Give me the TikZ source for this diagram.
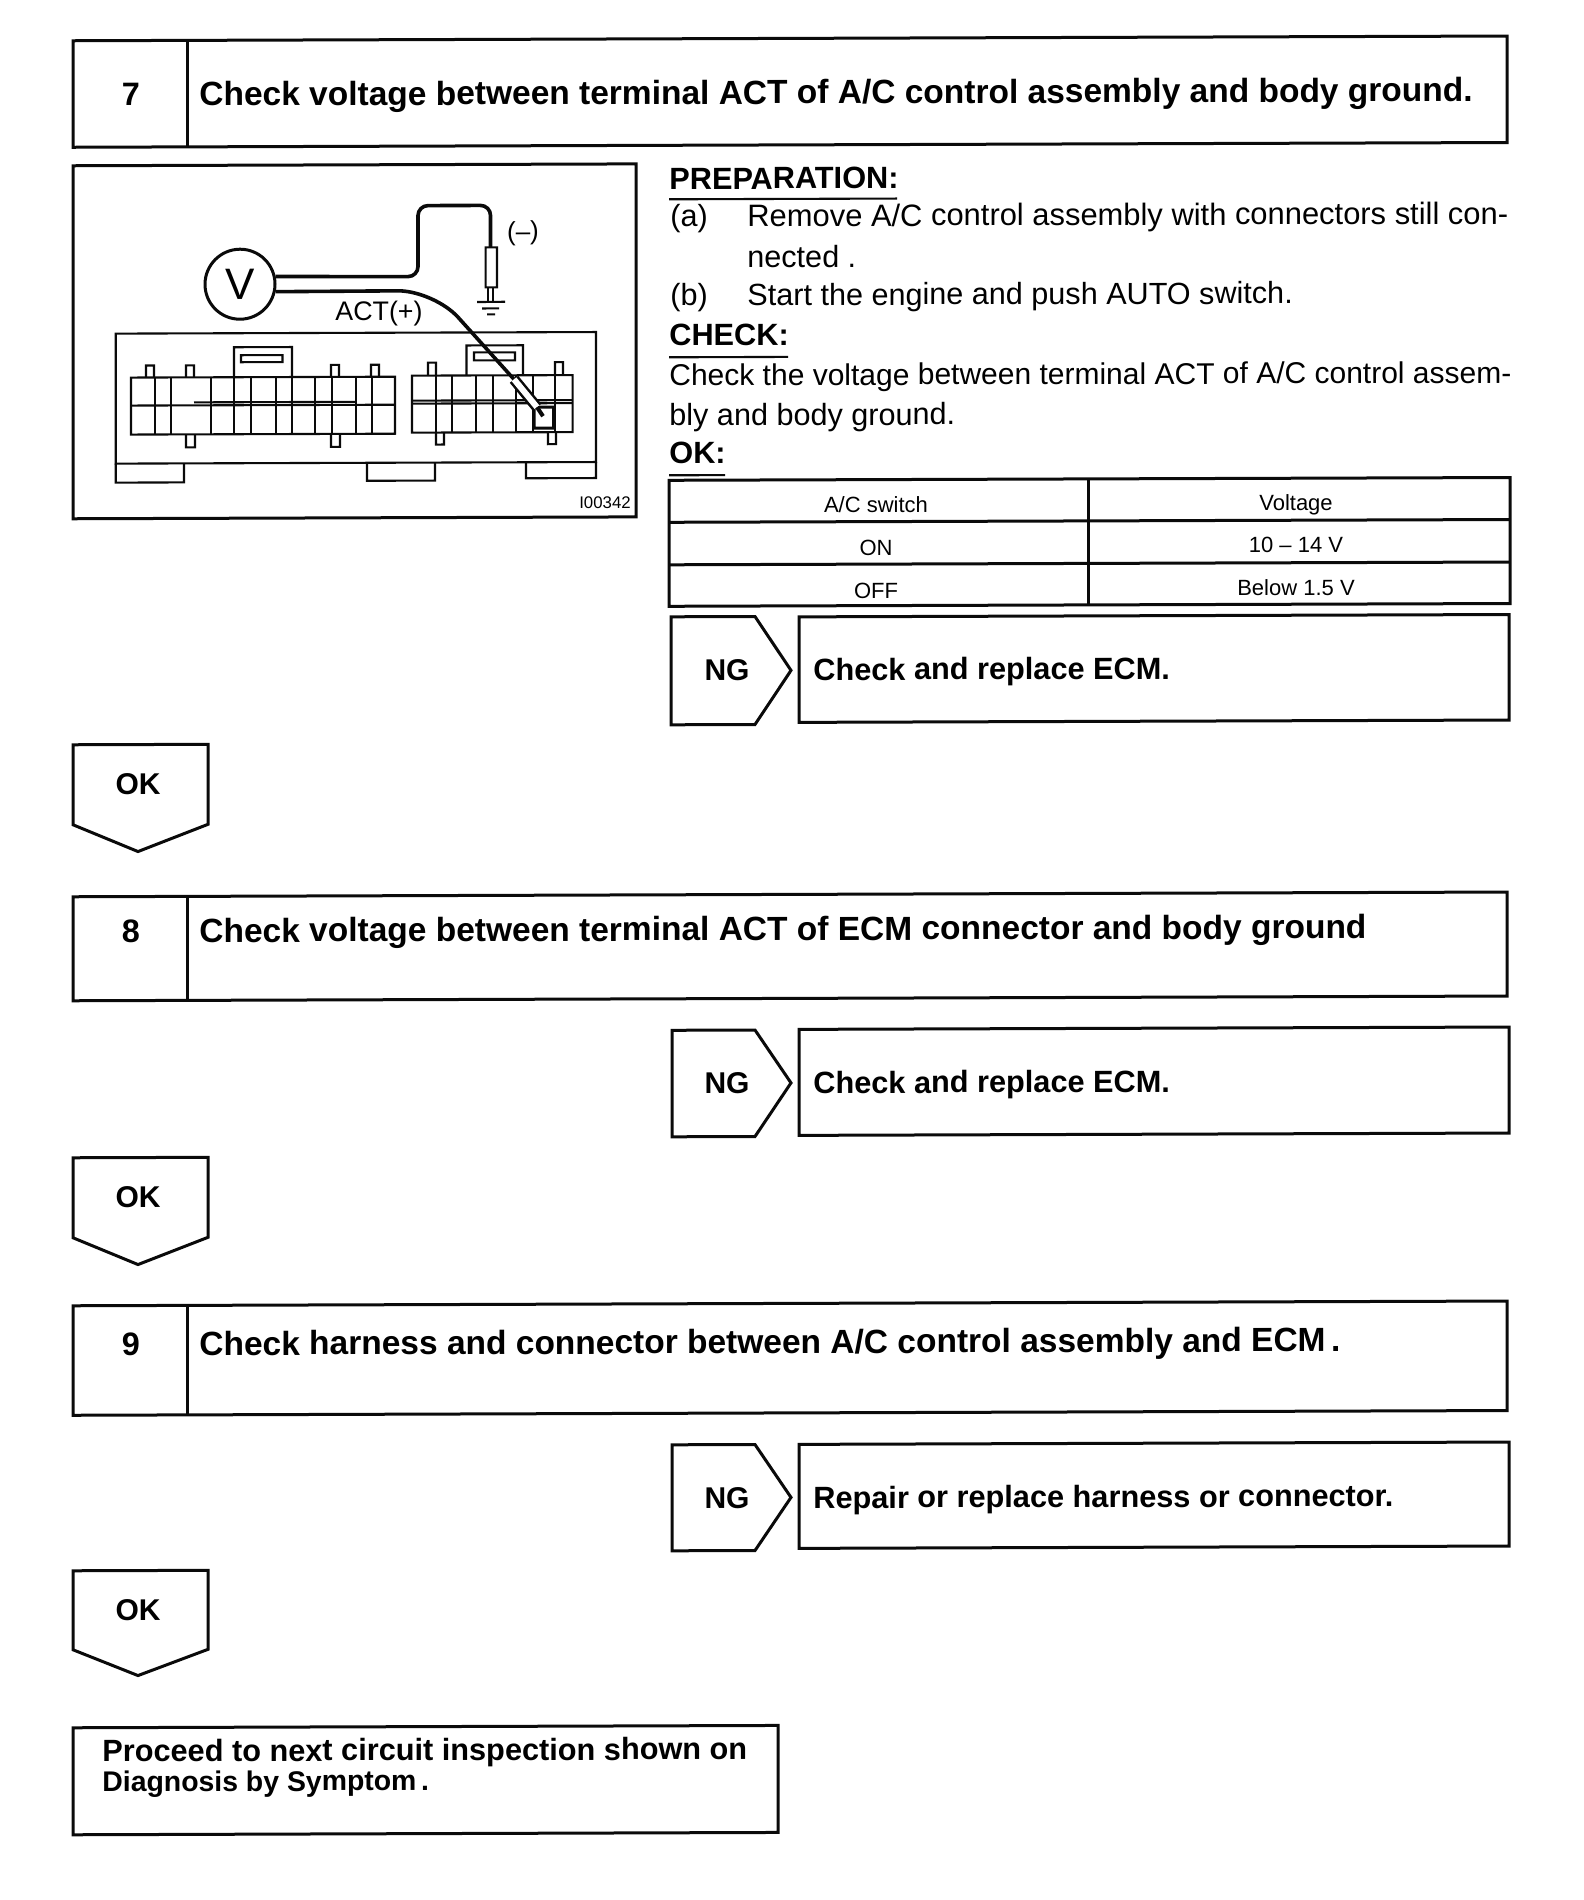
\documentclass[tikz,border=0pt]{standalone}
\usepackage{fontspec}
\setmainfont{Liberation Sans}
\usetikzlibrary{positioning}
\definecolor{scanblack}{RGB}{10,10,10}
\tikzset{
  outline/.style={draw=scanblack, line width=1.5pt},
  thinline/.style={draw=scanblack, line width=1.05pt},
  wire/.style={draw=scanblack, line width=1.8pt, rounded corners=5pt},
  headtext/.style={anchor=base west, inner sep=0pt, font=\fontsize{16.75}{18}\bfseries},
  headnum/.style={anchor=base, inner sep=0pt, font=\fontsize{16.2}{18}\bfseries},
  boldtext/.style={anchor=base west, inner sep=0pt, font=\fontsize{15.35}{18}\bfseries},
  signtext/.style={anchor=base, inner sep=0pt, font=\fontsize{15}{18}\bfseries},
  bodytext/.style={anchor=base west, inner sep=0pt, font=\fontsize{15.3}{18}\selectfont},
  celltext/.style={anchor=base, inner sep=0pt, font=\fontsize{11}{13}\selectfont}
}
\begin{document}
\begin{tikzpicture}[x=0.5pt, y=-0.5pt]
\useasboundingbox (0,0) rectangle (1584,1900);

\begin{scope}[yslant=0.0033, every node/.style={transform shape}]

% === Step 7 header ===
\draw[outline] (73,41) rectangle (1507,147.5);
\draw[outline] (187,41) -- (187,147.5);
\node[headnum] (num7) at (131,106) {7};
\node[headtext] (title7) at (199,106.5) {Check voltage between terminal ACT of A/C control assembly and body ground.};

% === Meter picture ===
\begin{scope}[shift={(0,1)}]
\draw[outline] (73,165) rectangle (636,518);
\node[draw=scanblack, line width=1.5pt, circle, minimum size=35pt, inner sep=0pt,
      font=\fontsize{22}{24}\selectfont] (vmeter) at (240,284) {V};

% Wires
\coordinate (probeneg) at (490.5,248);
\coordinate (probepos) at (514,380);
\draw[wire] (vmeter.12) -- (418,277) -- (418,206) -- (490.5,206) -- (probeneg);
\draw[wire, rounded corners=18pt] (vmeter.-12) -- (434,291) -- (probepos);

% Negative probe and ground
\draw[thinline] (485.6,248) rectangle (497,288);
\draw[thinline] (488,288) -- (488,302) (493,288) -- (493,302);
\draw[outline, line width=1.1pt] (477,302.5) -- (505,302.5);
\draw[outline, line width=1.1pt] (482,309) -- (499,309);
\draw[outline, line width=1.1pt] (487,315) -- (495,315);
\node[anchor=center, inner sep=0pt, font=\fontsize{13}{15}\selectfont] (neglabel) at (523,234) {(--)};
\node[anchor=center, inner sep=0pt, font=\fontsize{13.4}{15}\selectfont] (poslabel) at (379,314) {ACT(+)};

% Connector body
\draw[thinline] (115.7,333) rectangle (596,463);
\draw[thinline] (115.7,463) -- (115.7,482) -- (184,482) -- (184,463);
\draw[thinline] (367,463) -- (367,481) -- (435,481) -- (435,463);
\draw[thinline] (526,463) -- (526,479) -- (596,479) -- (596,463);

% Left connector
\draw[thinline] (234,377) -- (234,347) -- (292,347) -- (292,377);
\draw[thinline] (241,355) rectangle (282.5,362);
\foreach \tabx in {146,186,331,371} {
    \draw[thinline] (\tabx,377) -- (\tabx,365) -- (\tabx+8,365) -- (\tabx+8,377);
}
\foreach \tabx in {186,331} {
    \draw[thinline] (\tabx,434) -- (\tabx,447) -- (\tabx+9,447) -- (\tabx+9,434);
}
\draw[thinline] (131,377) rectangle (395,434);
\draw[thinline] (131,405) -- (395,405);
\draw[thinline] (194,402) -- (356,402);
\foreach \divx in {155,171,211,234,251,276,292,315,332,356,372} {
    \draw[thinline] (\divx,377) -- (\divx,434);
}

% Right connector
\draw[thinline] (466.5,376) -- (466.5,346) -- (523,346) -- (523,376);
\draw[thinline] (474,353) rectangle (515,361);
\foreach \tabx in {428,555} {
    \draw[thinline] (\tabx,376) -- (\tabx,363) -- (\tabx+8,363) -- (\tabx+8,376);
}
\foreach \tabx in {436,548} {
    \draw[thinline] (\tabx,433) -- (\tabx,445) -- (\tabx+8,445) -- (\tabx+8,433);
}
\draw[thinline] (412,376) rectangle (572.6,433);
\draw[thinline] (412,404) -- (572.6,404);
\draw[thinline] (412,401) -- (572.6,401);
\foreach \divx in {436,452,476,493,516,533,555} {
    \draw[thinline] (\divx,376) -- (\divx,433);
}
\draw[outline, fill=white] (534,408) rectangle (553.5,429);

% Positive probe
\draw[draw=scanblack, line width=5.5pt] (probepos) -- (537,408);
\draw[draw=white, line width=3pt] (probepos) -- (537,408);
\draw[draw=scanblack, line width=2pt] (537,408) -- (543,417);

\node[anchor=center, inner sep=0pt, font=\fontsize{8.4}{9}\selectfont] (figid) at (605,504) {I00342};
\end{scope}

% === Preparation text ===
\node[boldtext] (prep) at (669,191.5) {PREPARATION:};
\draw[thinline] (669,201.5) -- (897,201.5);
\node[bodytext] (itema) at (670,229) {(a)};
\node[bodytext, font=\fontsize{15.45}{18}\selectfont] (linea) at (747,229) {Remove A/C control assembly with connectors still con-};
\node[bodytext] (lineb) at (747,270) {nected .};
\node[bodytext] (itemb) at (670,308) {(b)};
\node[bodytext] (linec) at (747,308) {Start the engine and push AUTO switch.};
\node[boldtext] (check) at (669,348) {CHECK:};
\draw[thinline] (669,359.5) -- (788,359.5);
\node[bodytext, font=\fontsize{15}{18}\selectfont] (lined) at (669,388) {Check the voltage between terminal ACT of A/C control assem-};
\node[bodytext] (linee) at (669,428) {bly and body ground.};
\node[boldtext] (okhead) at (669,466) {OK:};
\draw[thinline] (669,477.5) -- (725,477.5);

% === Table ===
\draw[outline] (669,482.5) rectangle (1510,608.5);
\draw[outline] (1088,482.5) -- (1088,608.5);
\draw[outline] (669,524.5) -- (1510,524.5);
\draw[outline] (669,567) -- (1510,567);
\node[celltext] (acswitch) at (876,515.5) {A/C switch};
\node[celltext] (voltage) at (1296,514.5) {Voltage};
\node[celltext] (acon) at (876,558.5) {ON};
\node[celltext] (volton) at (1296,557) {10 -- 14 V};
\node[celltext] (acoff) at (876,601.5) {OFF};
\node[celltext] (voltoff) at (1296,600) {Below 1.5 V};

% NG 7
\draw[outline] (671,619) -- (755,619) -- (791,673) -- (755,727) -- (671,727) -- cycle;
\node[signtext] (ng7) at (727,683) {NG};
\draw[outline] (799,619.5) rectangle (1509,725);
\node[boldtext] (fix7) at (813,683) {Check and replace ECM.};

% OK 7
\draw[outline] (73,745) -- (208,745) -- (208,825) -- (138,852) -- (73,825) -- cycle;
\node[signtext] (ok7) at (138,795) {OK};

% === Step 8 header ===
\draw[outline] (73,897) rectangle (1507,1001);
\draw[outline] (187,897) -- (187,1001);
\node[headnum] (num8) at (131,943) {8};
\node[headtext] (title8) at (199,943) {Check voltage between terminal ACT of ECM connector and body ground};

% NG 8
\draw[outline] (672,1032.5) -- (755,1032.5) -- (791,1085.5) -- (755,1139) -- (672,1139) -- cycle;
\node[signtext] (ng8) at (727,1096) {NG};
\draw[outline] (799,1032) rectangle (1509,1138);
\node[boldtext] (fix8) at (813,1096) {Check and replace ECM.};

% OK 8
\draw[outline] (73,1158) -- (208,1158) -- (208,1238) -- (138,1265) -- (73,1238) -- cycle;
\node[signtext] (ok8) at (138,1208) {OK};

% === Step 9 header ===
\draw[outline] (73,1306) rectangle (1507,1415.5);
\draw[outline] (187,1306) -- (187,1415.5);
\node[headnum] (num9) at (131,1356) {9};
\node[headtext] (title9) at (199,1356) {Check harness and connector between A/C control assembly and ECM\,.};

% NG 9
\draw[outline] (672,1447) -- (755,1447) -- (791,1500) -- (755,1553) -- (672,1553) -- cycle;
\node[signtext] (ng9) at (727,1511) {NG};
\draw[outline] (799,1447) rectangle (1509,1551);
\node[boldtext] (fix9) at (813,1511) {Repair or replace harness or connector.};

% OK 9
\draw[outline] (73,1571) -- (208,1571) -- (208,1650) -- (138,1676) -- (73,1650) -- cycle;
\node[signtext] (ok9) at (138,1621) {OK};

% === Final box ===
\draw[outline] (73,1728) rectangle (778,1835);
\node[boldtext] (nextone) at (102,1762) {Proceed to next circuit inspection shown on};
\node[boldtext, font=\fontsize{14.2}{18}\bfseries] (nexttwo) at (102,1792) {Diagnosis by Symptom\,.};

\end{scope}
\end{tikzpicture}
\end{document}
